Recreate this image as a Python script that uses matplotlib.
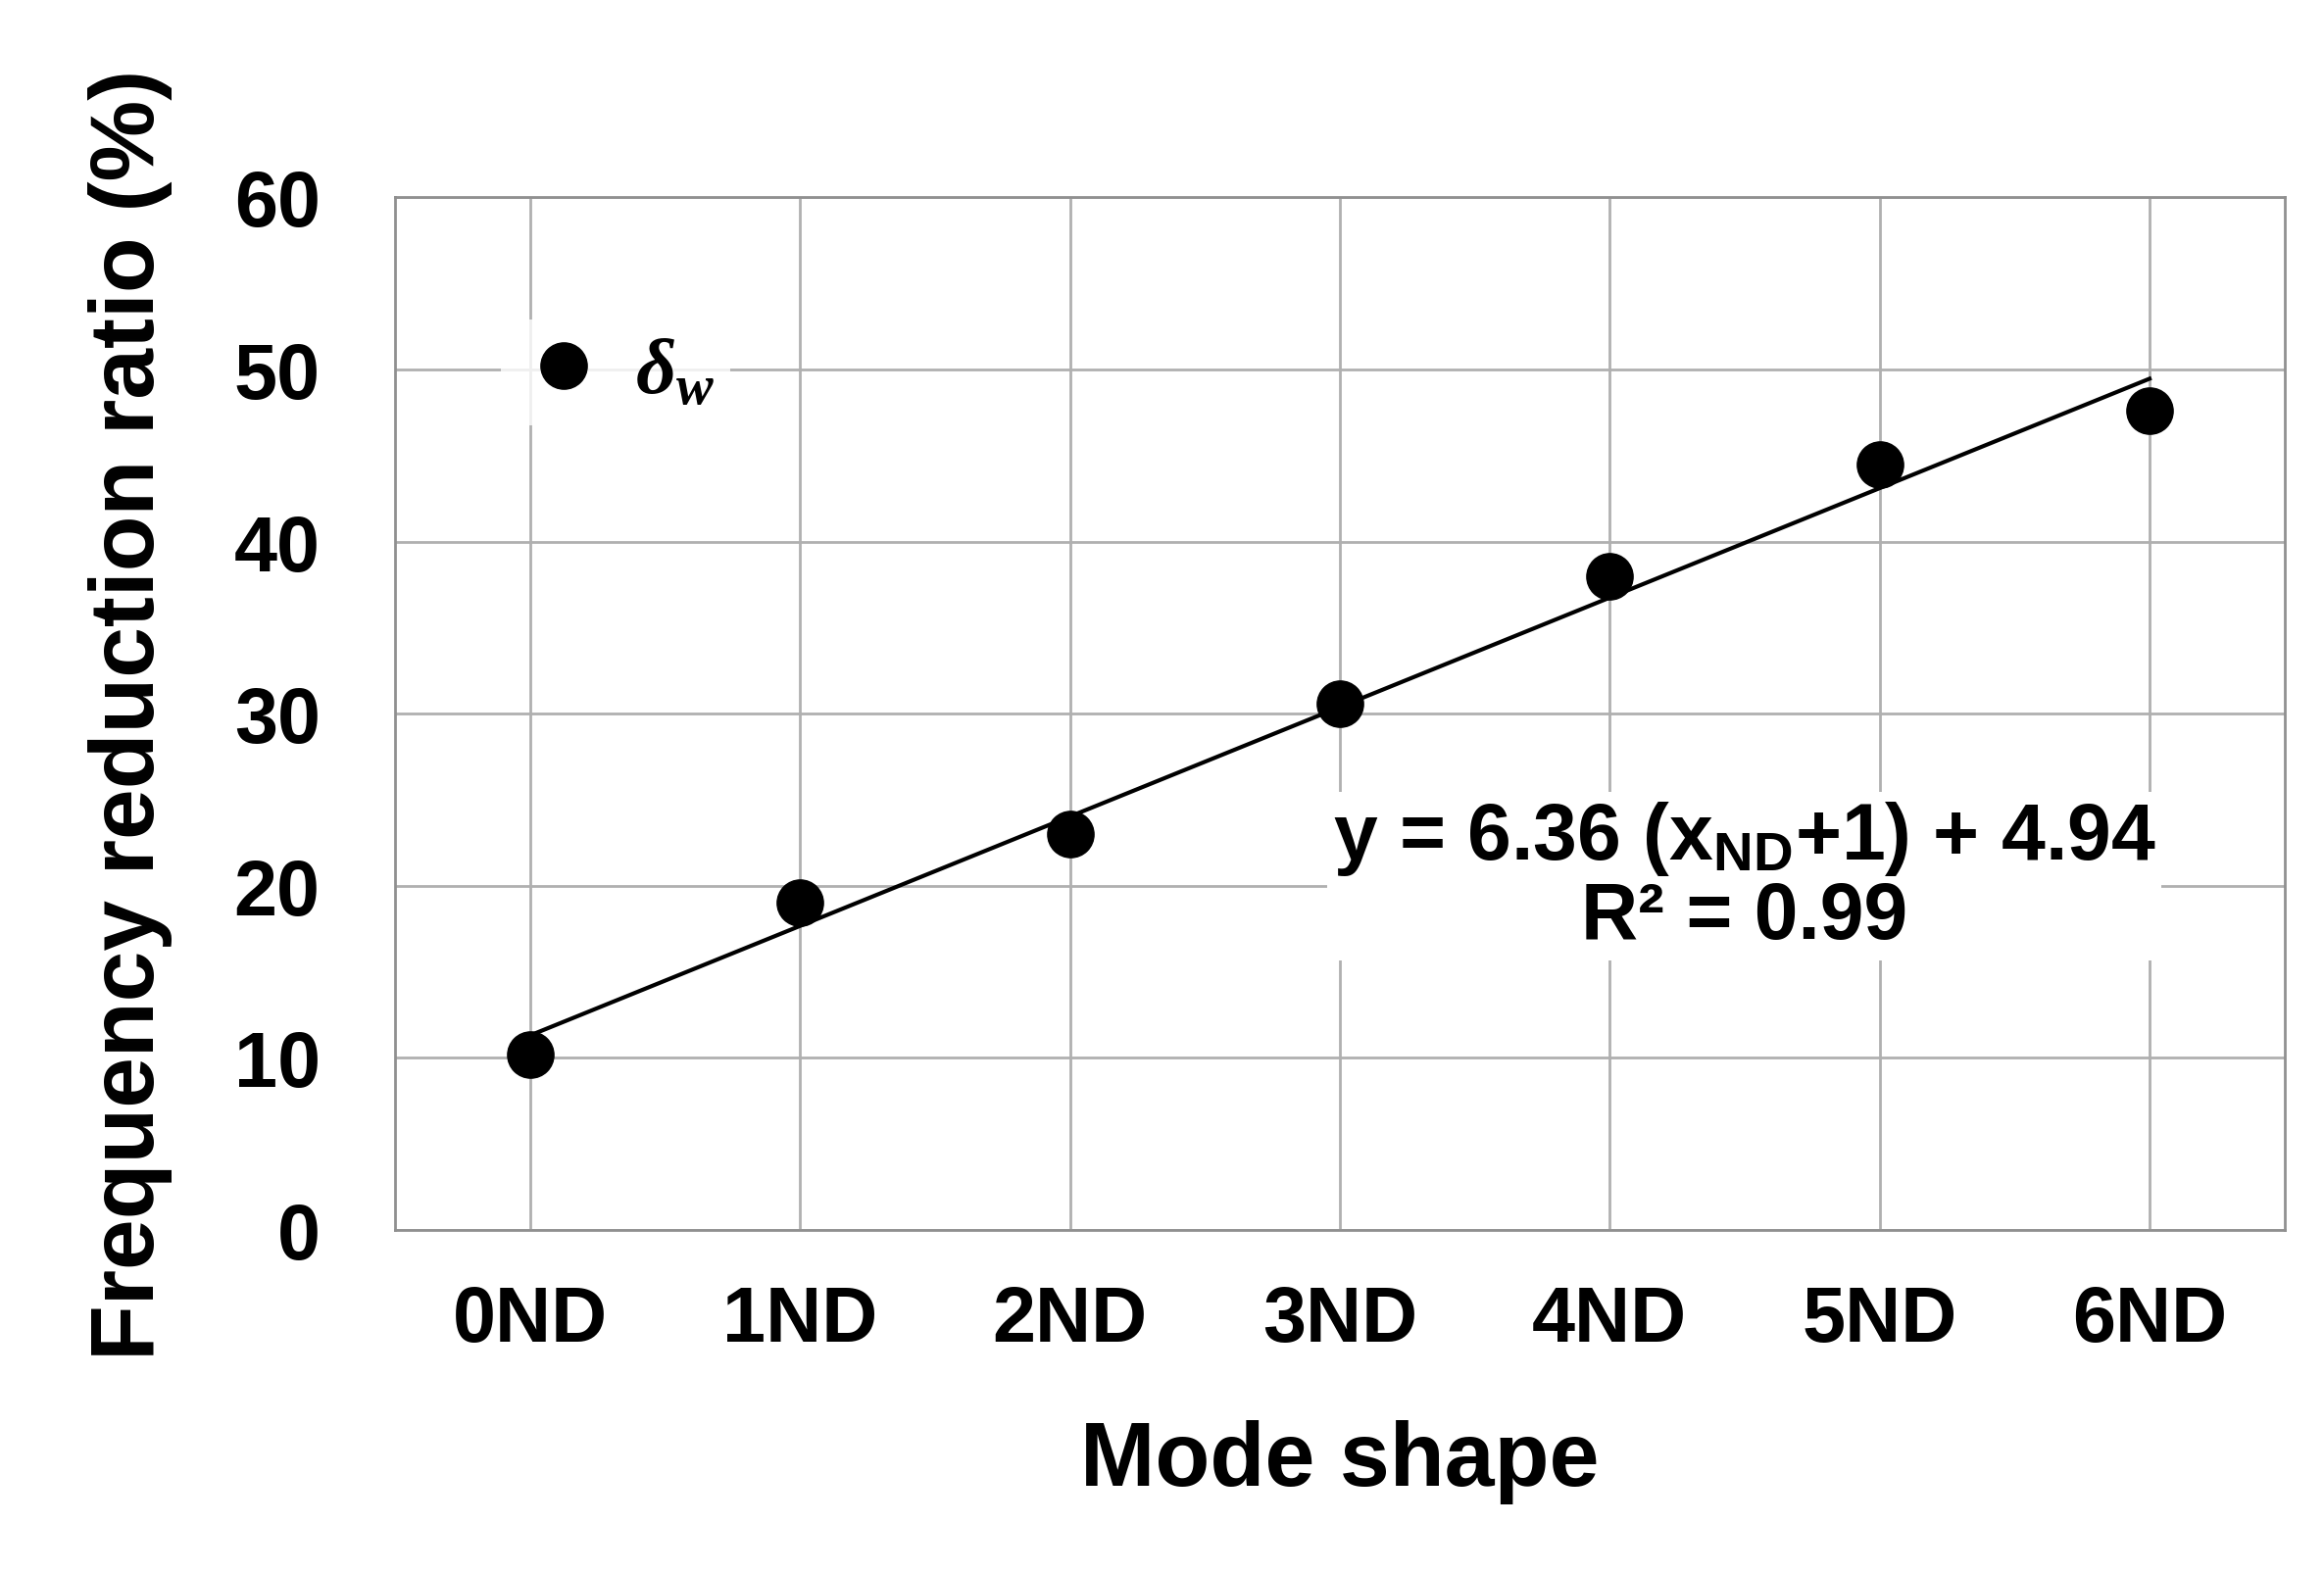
import matplotlib.pyplot as plt
import numpy as np

plt.rcParams['font.family'] = ['Liberation Sans', 'DejaVu Sans']
plt.rcParams['font.weight'] = 'bold'
plt.rcParams['mathtext.fontset'] = 'custom'
plt.rcParams['mathtext.rm'] = 'Liberation Sans:bold'
plt.rcParams['mathtext.it'] = 'Liberation Serif:italic'

# data
modes = ['0ND', '1ND', '2ND', '3ND', '4ND', '5ND', '6ND']
ratio = [10.2, 19.0, 23.0, 30.6, 38.0, 44.5, 47.6]
slope = 6.36
intercept = 4.94

x = np.arange(len(modes))
fit = slope * (x + 1) + intercept

fig = plt.figure(figsize=(23.71, 16.06), dpi=100)
ax = fig.add_axes([0.170, 0.218, 0.813, 0.656])

ax.plot(x, fit, color='black', lw=3, zorder=3)
ax.plot(x, ratio, 'o', color='black', ms=34, zorder=4, label=r'$\delta_w$')

ax.set_xlim(-0.5, 6.5)
ax.set_ylim(0, 60)
ax.set_xticks(x)
ax.set_xticklabels(modes)
ax.set_yticks(range(0, 61, 10))
ax.grid(True, color='#b0b0b0', lw=2)
ax.set_axisbelow(True)
for s in ax.spines.values():
    s.set_color('#909090')
    s.set_linewidth(2)
ax.tick_params(length=0, labelsize=57, pad=55)
ax.tick_params(axis='x', pad=40)

ax.set_xlabel('Mode shape', fontsize=66, fontweight='bold', labelpad=45)
ax.set_ylabel('Frequency reduction ratio (%)', fontsize=67, fontweight='bold', labelpad=45)

leg = ax.legend(loc='upper left', bbox_to_anchor=(0.035, 0.92), fontsize=58,
                frameon=True, edgecolor='white', fancybox=False, handletextpad=0.3,
                borderpad=0.2, handlelength=1.2)
leg.get_frame().set_linewidth(0)

ax.text(4.5, 20.5, r'y = 6.36 (x$_{\mathrm{ND}}$+1) + 4.94' + '\n' + r'R² = 0.99',
        fontsize=58, fontweight='bold', ha='center', va='center', linespacing=1.05,
        bbox=dict(facecolor='white', edgecolor='none', pad=4), zorder=5)

fig.savefig('out.png')
